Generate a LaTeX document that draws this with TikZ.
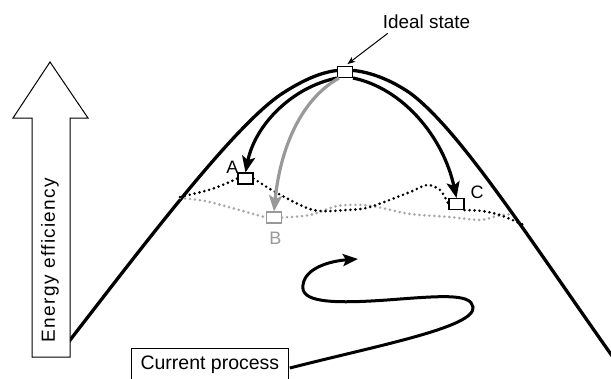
\documentclass[tikz,border=0pt]{standalone}
\usepackage{fontspec}
\setmainfont{Liberation Sans}
\usetikzlibrary{arrows.meta,calc}
\definecolor{arcgraycol}{gray}{0.6}
\definecolor{dotgraycol}{gray}{0.66}
\begin{document}
\begin{tikzpicture}[x=1pt,y=-1pt,
  mainline/.style={line width=3.3pt, black},
  bigtip/.style={-{Stealth[length=16pt,width=13pt,inset=3.5pt]}},
  arcblack/.style={line width=3.2pt, black, bigtip},
  arcgray/.style={line width=3.2pt, arcgraycol, bigtip},
  statebox/.style={draw, line width=1.1pt, fill=white, minimum width=15pt, minimum height=11pt, inner sep=0pt},
  dotblack/.style={line width=2.9pt, dash pattern=on 0pt off 5pt, line cap=round},
  dotgray/.style={dotblack, color=dotgraycol},
  lbl/.style={font=\fontsize{18}{18}\selectfont, inner sep=0pt, anchor=base},
  curbox/.style={draw, line width=0.8pt, font=\fontsize{19.5}{19.5}\selectfont, inner xsep=7pt, inner ysep=7pt, text height=14pt, text depth=26pt, minimum width=157pt},
  sline/.style={line width=3pt, black, -{Stealth[length=15pt,width=12pt,inset=3pt]}}]
\useasboundingbox (0,0) rectangle (611,378);

% main efficiency curve
\draw[mainline] (60,353) .. controls (140,250) and (230,130) .. (280,95)
  .. controls (310,75) and (330,70) .. (345,70)
  .. controls (362,70) and (385,76) .. (410,93)
  .. controls (460,130) and (530,240) .. (615,360);

% state boxes
\node[statebox] (ideal) at (345,72) {};
\node[statebox] (A) at (245.5,178.5) {};
\node[statebox, draw=arcgraycol] (B) at (274,217.5) {};
\node[statebox] (C) at (456.5,204) {};

% dotted lines
\draw[dotgray] plot[smooth] coordinates {(180,198) (205,201) (232,208) (B.west)};
\draw[dotgray] plot[smooth] coordinates {(B.east) (310,215) (337,206) (363,205) (382,208) (410,214) (450,217) (480,220) (497,216) (512,214)};
\draw[dotblack] plot[smooth] coordinates {(180,197) (212,189) (A.west)};
\draw[dotblack] plot[smooth] coordinates {(A.east) (277,193) (313,210) (347,210) (370,207) (410,192) (427,185) (440,190) (C.west)};
\draw[dotblack] plot[smooth] coordinates {(C.south east) (482,211) (500,215) (524,225)};

% arcs from the ideal state
\draw[arcblack] (ideal.south west) .. controls (292,87) and (255,125) .. (A.north);
\draw[arcblack] (ideal.south east) .. controls (402,88) and (443,136) .. (C.north);
\draw[arcgray] ($(ideal.south west)+(2,0)$) .. controls (300,100) and (280,150) .. (B.north);

% labels
\node[lbl] (lA) at (232.5,173) {A};
\node[lbl, text=arcgraycol] (lB) at (275.5,244) {B};
\node[lbl] (lC) at (477,198) {C};
\node[font=\fontsize{18.9}{18.9}\selectfont, inner sep=0pt, anchor=base] (idl) at (426.5,28) {Ideal state};
\draw[line width=1pt, -{Stealth[length=8pt,width=6pt]}, shorten >=3pt] ($(idl.south west)+(5,5)$) -- (ideal.north);

% energy efficiency arrow
\draw[line width=1pt, fill=white, line join=miter] (32,357) -- (70,357) -- (70,118) -- (88,118) -- (50,62) -- (13,118) -- (32,118) -- cycle;
\node[rotate=90, inner sep=0pt, font=\fontsize{19}{19}\selectfont\addfontfeature{LetterSpace=7}] (ee) at (50,260) {Energy efficiency};

% current process
\node[curbox, anchor=north west] (cur) at (131,348) {Current process};
\draw[sline] ($(cur.north east)+(1,20)$) .. controls (380,345) and (476,327) .. (473,307) .. controls (471,293) and (440,296) .. (387,300) .. controls (330,304) and (300,302) .. (303,285) .. controls (305,268) and (330,261) .. (358,259);
\end{tikzpicture}
\end{document}
